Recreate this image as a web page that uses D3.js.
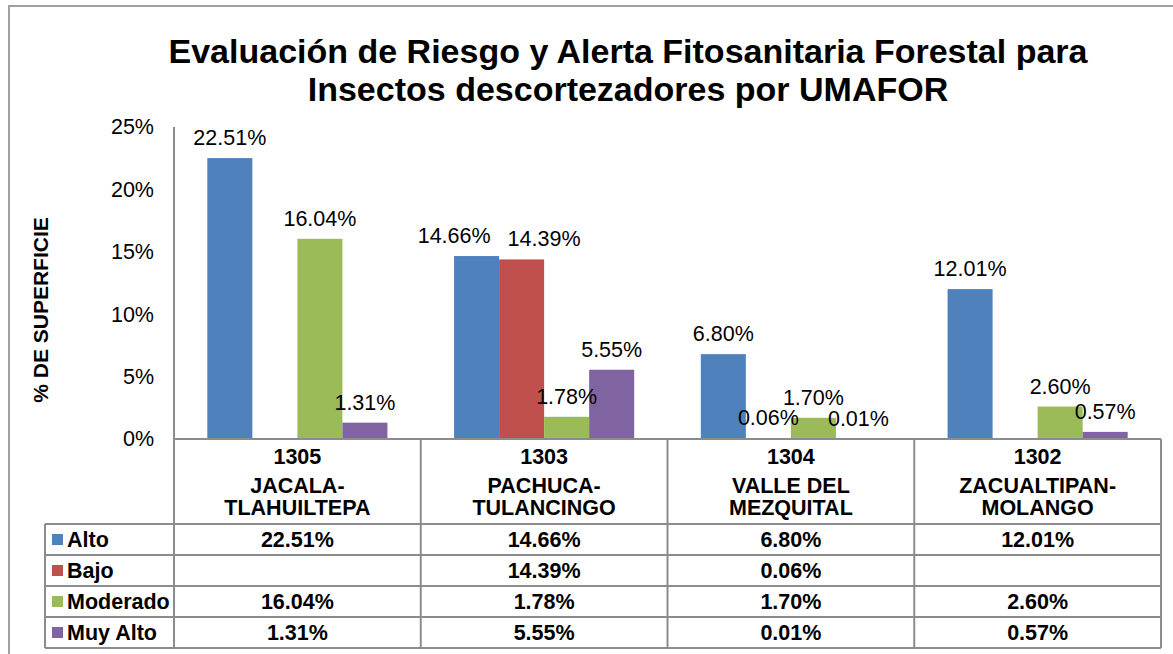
<!DOCTYPE html>
<html>
<head>
<meta charset="utf-8">
<script src="https://cdn.jsdelivr.net/npm/d3@7"></script>
<style>
  body { margin: 0; background: #fff; }
  text { font-family: "Liberation Sans", Arial, sans-serif; fill: #000; }
</style>
</head>
<body>
<div id="chart"></div>
<script>
// Data
var codes = ["1305", "1303", "1304", "1302"];
var names = [["JACALA-", "TLAHUILTEPA"], ["PACHUCA-", "TULANCINGO"], ["VALLE DEL", "MEZQUITAL"], ["ZACUALTIPAN-", "MOLANGO"]];
var seriesNames = ["Alto", "Bajo", "Moderado", "Muy Alto"];
var alto = [22.51, 14.66, 6.80, 12.01];
var bajo = [null, 14.39, 0.06, null];
var moderado = [16.04, 1.78, 1.70, 2.60];
var muyAlto = [1.31, 5.55, 0.01, 0.57];
var yTicks = [0, 5, 10, 15, 20, 25];
var colors = ["#4F81BD", "#C0504D", "#9BBB59", "#8064A2"];

var seriesValues = [alto, bajo, moderado, muyAlto];

var width = 1173, height = 654;
var plot = { left: 174, right: 1161, top: 127, bottom: 439 };
var headLeft = 45, rowTop = 524, rowH = 31;
var gridColor = "#8c8c8c";
var fs = "21.5px";

var svg = d3.select("#chart").append("svg")
    .attr("width", width)
    .attr("height", height);

// Chart frame
svg.append("rect")
    .attr("x", 9).attr("y", 6)
    .attr("width", 1200).attr("height", 700)
    .attr("fill", "none")
    .attr("stroke", "#a0a0a0")
    .attr("stroke-width", 2);

// Title
svg.append("text")
    .attr("x", 628).attr("y", 63)
    .attr("text-anchor", "middle")
    .style("font-size", "34px").style("font-weight", "bold")
    .text("Evaluación de Riesgo y Alerta Fitosanitaria Forestal para");
svg.append("text")
    .attr("x", 628).attr("y", 101)
    .attr("text-anchor", "middle")
    .style("font-size", "34px").style("font-weight", "bold")
    .text("Insectos descortezadores por UMAFOR");

// Scales
var x0 = d3.scaleBand()
    .domain(codes)
    .range([plot.left, plot.right])
    .paddingInner(0).paddingOuter(0);

var x1 = d3.scaleBand()
    .domain(seriesNames)
    .range([0, x0.bandwidth()])
    .paddingInner(0)
    .paddingOuter(0.74);

var yScale = d3.scaleLinear()
    .domain([0, 25])
    .range([plot.bottom, plot.top]);

// Y axis
var yAxis = d3.axisLeft(yScale)
    .tickValues(yTicks)
    .tickSize(0)
    .tickPadding(20)
    .tickFormat(function (d) { return d + "%"; });

var yAxisG = svg.append("g")
    .attr("transform", "translate(" + plot.left + ",0)")
    .call(yAxis);
yAxisG.select(".domain").remove();
yAxisG.selectAll("text")
    .style("font-size", fs)
    .style("font-family", "'Liberation Sans', Arial, sans-serif")
    .attr("fill", "#000");

svg.append("text")
    .attr("transform", "translate(48,310) rotate(-90)")
    .attr("text-anchor", "middle")
    .style("font-size", "21px").style("font-weight", "bold")
    .text("% DE SUPERFICIE");

// Bars
var barData = [];
codes.forEach(function (c, i) {
    seriesNames.forEach(function (s, j) {
        if (seriesValues[j][i] !== null) {
            barData.push({ code: c, series: s, value: seriesValues[j][i], color: colors[j] });
        }
    });
});

svg.selectAll(".bar")
    .data(barData)
  .enter().append("rect")
    .attr("class", "bar")
    .attr("x", function (d) { return x0(d.code) + x1(d.series); })
    .attr("width", x1.bandwidth())
    .attr("y", function (d) { return yScale(d.value); })
    .attr("height", function (d) { return yScale(0) - yScale(d.value); })
    .attr("fill", function (d) { return d.color; });

var labels = svg.selectAll(".label")
    .data(barData)
  .enter().append("text")
    .attr("class", "label")
    .attr("x", function (d) { return x0(d.code) + x1(d.series) + x1.bandwidth() / 2; })
    .attr("y", function (d) { return yScale(d.value) - 13; })
    .attr("text-anchor", "middle")
    .style("font-size", fs)
    .text(function (d) { return d.value.toFixed(2) + "%"; });

// Push apart neighbouring labels that sit on the same height and collide
codes.forEach(function (c) {
    var group = labels.filter(function (d) { return d.code === c; }).nodes();
    for (var k = 0; k < group.length - 1; k++) {
        var ay = +d3.select(group[k]).attr("y"), by = +d3.select(group[k + 1]).attr("y");
        if (Math.abs(ay - by) > 12) continue;
        var a = group[k].getBBox(), b = group[k + 1].getBBox();
        var need = a.x + a.width + 17 - b.x;
        if (need > 0) {
            var ax = +d3.select(group[k]).attr("x"), bx = +d3.select(group[k + 1]).attr("x");
            d3.select(group[k]).attr("x", ax - need / 2);
            d3.select(group[k + 1]).attr("x", bx + need / 2);
        }
    }
});

// Data table lines
var tableBottom = rowTop + rowH * seriesNames.length;
var lines = svg.append("g")
    .attr("stroke", gridColor)
    .attr("stroke-width", 2);

// axis line (runs down through the table)
lines.append("line")
    .attr("x1", plot.left).attr("x2", plot.left)
    .attr("y1", plot.top).attr("y2", tableBottom);
// zero line
lines.append("line")
    .attr("x1", plot.left).attr("x2", plot.right)
    .attr("y1", plot.bottom).attr("y2", plot.bottom);
// column separators
codes.forEach(function (c) {
    lines.append("line")
        .attr("x1", x0(c) + x0.bandwidth()).attr("x2", x0(c) + x0.bandwidth())
        .attr("y1", plot.bottom).attr("y2", tableBottom);
});
// left edge of row headers
lines.append("line")
    .attr("x1", headLeft).attr("x2", headLeft)
    .attr("y1", rowTop).attr("y2", tableBottom);
// row lines
d3.range(seriesNames.length + 1).forEach(function (r) {
    lines.append("line")
        .attr("x1", headLeft).attr("x2", plot.right)
        .attr("y1", rowTop + r * rowH).attr("y2", rowTop + r * rowH);
});

// Category labels
codes.forEach(function (c, i) {
    var cx = x0(c) + x0.bandwidth() / 2;
    svg.append("text")
        .attr("x", cx).attr("y", 464)
        .attr("text-anchor", "middle")
        .style("font-size", fs).style("font-weight", "bold")
        .text(c);
    names[i].forEach(function (n, k) {
        svg.append("text")
            .attr("x", cx).attr("y", 493 + k * 22)
            .attr("text-anchor", "middle")
            .style("font-size", fs).style("font-weight", "bold")
            .text(n);
    });
});

// Table rows: legend keys and values
seriesNames.forEach(function (s, j) {
    var ry = rowTop + j * rowH;
    svg.append("rect")
        .attr("x", 52).attr("y", ry + 10)
        .attr("width", 11).attr("height", 11)
        .attr("fill", colors[j]);
    svg.append("text")
        .attr("x", 67).attr("y", ry + 23)
        .style("font-size", fs).style("font-weight", "bold")
        .text(s);
    codes.forEach(function (c, i) {
        var v = seriesValues[j][i];
        if (v === null) return;
        svg.append("text")
            .attr("x", x0(c) + x0.bandwidth() / 2).attr("y", ry + 23)
            .attr("text-anchor", "middle")
            .style("font-size", fs).style("font-weight", "bold")
            .text(v.toFixed(2) + "%");
    });
});
</script>
</body>
</html>
